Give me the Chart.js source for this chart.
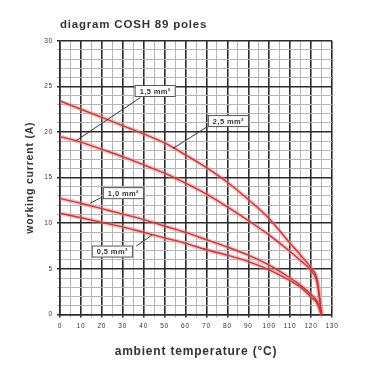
<!DOCTYPE html>
<html>
<head>
<meta charset="utf-8">
<script src="https://cdn.jsdelivr.net/npm/chart.js@4/dist/chart.umd.min.js"></script>
<style>
html, body { margin: 0; padding: 0; background: #fff; }
#wrap { width: 380px; height: 380px; }
</style>
</head>
<body>
<div id="wrap"><canvas id="chart"></canvas></div>
<script>
// ambient temperature (°C)
const temps = [0, 10, 20, 30, 40, 50, 60, 70, 80, 90, 100, 110, 115, 120, 123, 125];
// working current (A) per cross-section
const cur25 = [23.4, 22.5, 21.6, 20.7, 19.8, 18.8, 17.5, 16.1, 14.5, 12.6, 10.5, 7.8, 6.5, 5.1, 3.7, 0];
const cur15 = [19.5, 18.9, 18.1, 17.3, 16.4, 15.5, 14.4, 13.2, 11.8, 10.3, 8.7, 6.9, 5.9, 4.8, 3.4, 0];
const cur10 = [12.7, 12.2, 11.6, 11.0, 10.4, 9.7, 9.0, 8.2, 7.4, 6.5, 5.4, 4.0, 3.2, 2.2, 1.4, 0];
const cur05 = [11.1, 10.6, 10.1, 9.6, 9.0, 8.4, 7.8, 7.1, 6.5, 5.8, 4.9, 3.7, 3.0, 1.9, 1.2, 0];

const seriesNames = ['2,5 mm²', '1,5 mm²', '1,0 mm²', '0,5 mm²'];
const seriesValues = [cur25, cur15, cur10, cur05];

// callout boxes: label, box centre (°C, A), leader start, leader end
const callouts = [
	{text: '1,5 mm²', at: [45.5, 24.5], from: [38.5, 23.8], to: [8, 19.1]},
	{text: '2,5 mm²', at: [80.5, 21.2], from: [70.5, 20.6], to: [54, 18.2]},
	{text: '1,0 mm²', at: [30.3, 13.3], from: [19.5, 12.8], to: [14.4, 12.2]},
	{text: '0,5 mm²', at: [25, 6.9], from: [36.5, 7.5], to: [43.9, 8.7]},
];

const FONT = '"Liberation Sans", Arial, sans-serif';

let datasets = [];
seriesValues.forEach((vals, i) => {
	let pts = temps.map((t, k) => ({x: t, y: vals[k]}));
	datasets.push({
		label: seriesNames[i] + ' halo',
		data: pts,
		borderColor: 'rgba(238,140,140,0.45)',
		borderWidth: 4.5,
		pointRadius: 0,
		cubicInterpolationMode: 'monotone',
		order: 2,
	});
	datasets.push({
		label: seriesNames[i],
		data: pts,
		borderColor: '#c4373c',
		borderWidth: 1.4,
		pointRadius: 0,
		cubicInterpolationMode: 'monotone',
		order: 1,
	});
});

// the original lettering is set a bit wide
const spacingPlugin = {
	id: 'spacing',
	beforeDraw(chart) {
		chart.ctx.letterSpacing = '0.8px';
	}
};

const calloutPlugin = {
	id: 'callouts',
	afterDatasetsDraw(chart) {
		const ctx = chart.ctx;
		const xs = chart.scales.x, ys = chart.scales.y;
		ctx.save();
		ctx.letterSpacing = '0.4px';
		ctx.font = 'bold 7.5px ' + FONT;
		ctx.textAlign = 'center';
		ctx.textBaseline = 'middle';
		for(const c of callouts)
		{
			ctx.strokeStyle = '#333';
			ctx.lineWidth = 1;
			ctx.beginPath();
			ctx.moveTo(xs.getPixelForValue(c.from[0]), ys.getPixelForValue(c.from[1]));
			ctx.lineTo(xs.getPixelForValue(c.to[0]), ys.getPixelForValue(c.to[1]));
			ctx.stroke();

			let cx = xs.getPixelForValue(c.at[0]);
			let cy = ys.getPixelForValue(c.at[1]);
			let w = ctx.measureText(c.text).width + 10;
			let h = 12;
			ctx.fillStyle = '#fff';
			ctx.fillRect(cx - w / 2, cy - h / 2, w, h);
			ctx.strokeStyle = '#555';
			ctx.strokeRect(cx - w / 2 + 0.5, cy - h / 2 + 0.5, w - 1, h - 1);
			ctx.fillStyle = '#333';
			ctx.fillText(c.text, cx, cy + 0.5);
		}
		ctx.restore();
	}
};

new Chart(document.getElementById('chart'), {
	type: 'line',
	data: {datasets: datasets},
	options: {
		responsive: true,
		maintainAspectRatio: false,
		animation: false,
		layout: {padding: {left: 0, right: 48, top: 0, bottom: 0}},
		scales: {
			x: {
				type: 'linear',
				min: 0,
				max: 130,
				afterFit: s => { s.height = 65.5; },
				ticks: {
					stepSize: 5,
					autoSkip: false,
					maxRotation: 0,
					padding: 5,
					color: '#333',
					font: {family: FONT, size: 6.5},
					callback: v => v % 10 === 0 ? v : '',
				},
				grid: {
					color: c => c.tick && c.tick.value % 10 === 0 ? '#2b2b2b' : '#b5b5b5',
					lineWidth: c => c.tick && c.tick.value % 10 === 0 ? 1.6 : 1,
					tickLength: 3,
				},
				border: {color: '#2b2b2b', width: 1.6},
				title: {
					display: true,
					text: 'ambient temperature (°C)',
					color: '#333',
					font: {family: FONT, size: 12, weight: 'bold'},
					padding: {top: 0, bottom: 21},
				},
			},
			y: {
				min: 0,
				max: 30,
				afterFit: s => { s.width = 60; },
				ticks: {
					stepSize: 1,
					autoSkip: false,
					padding: 4,
					color: '#333',
					font: {family: FONT, size: 6.5},
					callback: v => v % 5 === 0 ? v : '',
				},
				grid: {
					color: c => c.tick && c.tick.value % 5 === 0 ? '#2b2b2b' : '#b5b5b5',
					lineWidth: c => c.tick && c.tick.value % 5 === 0 ? 1.6 : 1,
					tickLength: 3,
				},
				border: {color: '#2b2b2b', width: 1.6},
				title: {
					display: true,
					text: 'working current (A)',
					color: '#333',
					font: {family: FONT, size: 10.5, weight: 'bold'},
					padding: {top: 24, bottom: 0},
				},
			},
		},
		plugins: {
			legend: {display: false},
			tooltip: {enabled: false},
			title: {
				display: true,
				text: 'diagram COSH 89 poles',
				align: 'start',
				fullSize: false,
				color: '#333',
				font: {family: FONT, size: 11.5, weight: 'bold'},
				padding: {top: 18, bottom: 9},
			},
		},
	},
	plugins: [spacingPlugin, calloutPlugin],
});
</script>
</body>
</html>
